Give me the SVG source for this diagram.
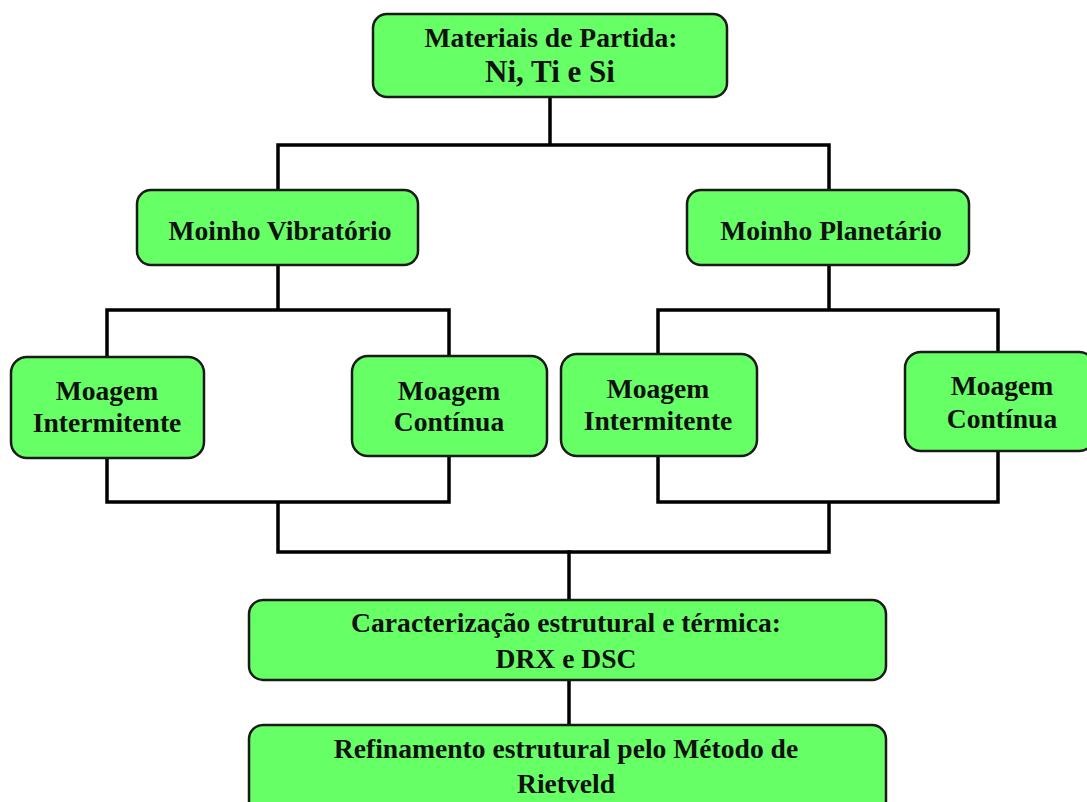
<svg xmlns="http://www.w3.org/2000/svg" width="1087" height="802" viewBox="0 0 1087 802">
<style>
.box{fill:#66FF66;stroke:#1a1a1a;stroke-width:2.5}
.t{font-family:"Liberation Serif","Times New Roman",serif;font-weight:bold;font-size:27.6px;fill:#111;text-anchor:middle}
.big{font-size:31px}
.c{fill:none;stroke:#000;stroke-width:3.5;stroke-linejoin:miter;stroke-linecap:square}
</style>
<rect width="1087" height="802" fill="#fff"/>
<g id="connectors">
<path class="c" d="M550,97 V145 M278,190 V145 H829 V190"/>
<path class="c" d="M278,265 V310 M107,357 V310 H449 V356"/>
<path class="c" d="M829,265 V310 M658,353 V310 H998 V352"/>
<path class="c" d="M107,458 V502 H449 V456"/>
<path class="c" d="M658,456 V502 H998 V451"/>
<path class="c" d="M278,503 V552 H829 V503"/>
<path class="c" d="M569,552 V600"/>
<path class="c" d="M569,680 V725"/>
</g>
<g id="n1"><rect class="box" x="373" y="14" width="354" height="83" rx="14"/>
<text class="t" x="551" y="47">Materiais de Partida:</text>
<text class="t big" x="550" y="82">Ni, Ti e Si</text></g>
<g id="n2"><rect class="box" x="137" y="190" width="281" height="75" rx="14"/>
<text class="t" x="280" y="240">Moinho Vibratório</text></g>
<g id="n3"><rect class="box" x="687" y="190" width="282" height="75" rx="14"/>
<text class="t" x="831" y="240">Moinho Planetário</text></g>
<g id="n4"><rect class="box" x="11" y="357" width="193" height="101" rx="16"/>
<text class="t" x="107" y="400">Moagem</text>
<text class="t" x="107" y="432">Intermitente</text></g>
<g id="n5"><rect class="box" x="352" y="356" width="195" height="100" rx="16"/>
<text class="t" x="449" y="400">Moagem</text>
<text class="t" x="449" y="431">Contínua</text></g>
<g id="n6"><rect class="box" x="561" y="354" width="196" height="102" rx="16"/>
<text class="t" x="658" y="398">Moagem</text>
<text class="t" x="658" y="430">Intermitente</text></g>
<g id="n7"><rect class="box" x="905" y="352" width="190" height="99" rx="16"/>
<text class="t" x="1002" y="395">Moagem</text>
<text class="t" x="1002" y="428">Contínua</text></g>
<g id="n8"><rect class="box" x="249" y="600" width="637" height="80" rx="14"/>
<text class="t" x="566" y="632">Caracterização estrutural e térmica:</text>
<text class="t" x="566" y="668">DRX e DSC</text></g>
<g id="n9"><rect class="box" x="249" y="725" width="637" height="90" rx="14"/>
<text class="t" x="566" y="758">Refinamento estrutural pelo Método de</text>
<text class="t" x="566" y="793">Rietveld</text></g>
</svg>
